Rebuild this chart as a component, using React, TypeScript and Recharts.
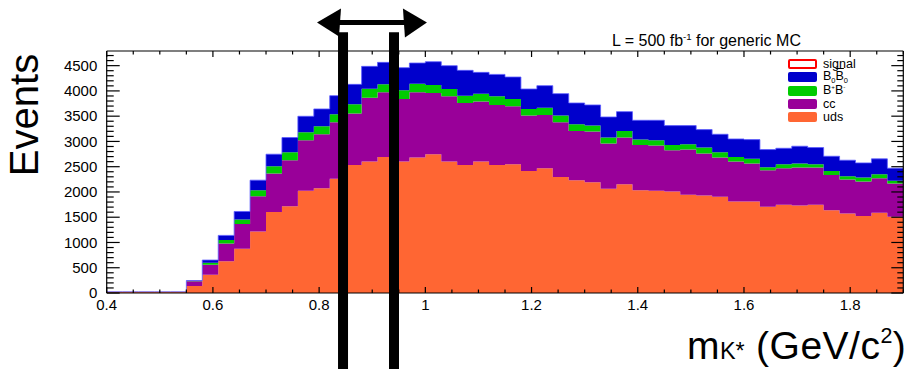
import React from 'react';
import { ComposedChart, Area, XAxis, YAxis, ReferenceLine, Legend } from 'recharts';

// ---------- data ----------
// low edges of the 50 histogram bins (width 0.03), and the upper edge of the last bin
const binStarts: number[] = Array.from({ length: 50 }, (_, i) => Math.round((0.4 + 0.03 * i) * 1000) / 1000);
const lastEdge = 1.9;

const uds = [25, 25, 25, 25, 25, 140, 362, 626, 876, 1219, 1601, 1719, 2022, 2075, 2259, 2536, 2602, 2694, 2602, 2681, 2747, 2602, 2536, 2602, 2536, 2549, 2417, 2470, 2298, 2233, 2193, 2062, 2154, 2035, 2022, 2009, 1943, 1930, 1903, 1811, 1811, 1706, 1745, 1732, 1745, 1640, 1574, 1522, 1588, 1508];
const cc = [0, 0, 0, 0, 0, 95, 198, 356, 488, 698, 764, 909, 1002, 1067, 1120, 1015, 1265, 1278, 1238, 1291, 1212, 1291, 1225, 1186, 1186, 1146, 1094, 1054, 1081, 975, 1002, 896, 922, 896, 896, 817, 896, 830, 778, 791, 751, 724, 725, 752, 739, 698, 672, 684, 684, 659];
const bb = [0, 0, 0, 0, 0, 4, 39, 65, 92, 119, 145, 159, 158, 158, 159, 184, 177, 158, 171, 171, 158, 145, 145, 158, 171, 145, 131, 145, 132, 132, 118, 118, 132, 105, 105, 105, 105, 119, 106, 92, 93, 60, 79, 78, 65, 79, 66, 80, 79, 53];
const b0b0 = [0, 0, 0, 0, 0, 6, 53, 93, 158, 197, 237, 290, 316, 343, 368, 395, 442, 435, 449, 409, 461, 461, 501, 421, 434, 435, 396, 435, 435, 421, 409, 408, 382, 383, 396, 382, 369, 355, 355, 355, 381, 349, 316, 343, 330, 290, 316, 289, 304, 250];

const xMajorTicks = [0.4, 0.6, 0.8, 1.0, 1.2, 1.4, 1.6, 1.8];
const xAllTicks: number[] = Array.from({ length: 31 }, (_, i) => Math.round((0.4 + 0.05 * i) * 100) / 100);
const yMajorTicks = [0, 500, 1000, 1500, 2000, 2500, 3000, 3500, 4000, 4500];
const yAllTicks: number[] = Array.from({ length: 48 }, (_, i) => i * 100);
const X_DOMAIN: [number, number] = [0.4, 1.9];
const Y_DOMAIN: [number, number] = [0, 4790];

// hand-drawn annotation (data coordinates)
const markerX = [0.845, 0.941];
const markerY: [number, number] = [-1520, 5160];
const arrowX: [number, number] = [0.796, 1.003];
const arrowY = 5356;

const COLORS = {
  signal: '#ff0000',
  b0b0: '#0000cc',
  bb: '#00cc00',
  cc: '#990099',
  uds: '#ff6633',
};

const legendKeys = ['signal', 'b0b0', 'bb', 'cc', 'uds'] as const;

// step rows: one per bin low edge, plus the closing edge carrying the last bin's value
const edges = [...binStarts, lastEdge];
const rows = edges.map((b, i) => {
  const j = Math.min(i, binStarts.length - 1);
  return { bin: b, uds: uds[j], cc: cc[j], bb: bb[j], b0b0: b0b0[j] };
});

const FONT = '"Liberation Sans", Arial, Helvetica, sans-serif';

const isMajor = (list: number[], v: number) => list.some((m) => Math.abs(m - v) < 1e-6);

const BottomTick = (p: any) => {
  const { x, y, payload } = p;
  const major = isMajor(xMajorTicks, payload.value);
  return (
    <g>
      <line x1={x} x2={x} y1={y} y2={y - (major ? 6 : 3.5)} stroke="#000" strokeWidth={1.2} />
      {major && (
        <text x={x} y={y + 16.5} textAnchor="middle" fontSize={15} fontFamily={FONT} fill="#000">
          {String(payload.value)}
        </text>
      )}
    </g>
  );
};

const TopTick = (p: any) => {
  const { x, y, payload } = p;
  const major = isMajor(xMajorTicks, payload.value);
  return <line x1={x} x2={x} y1={y} y2={y + (major ? 6 : 3.5)} stroke="#000" strokeWidth={1.2} />;
};

const LeftTick = (p: any) => {
  const { x, y, payload } = p;
  const major = isMajor(yMajorTicks, payload.value);
  return (
    <g>
      <line x1={x} x2={x + (major ? 13 : 7)} y1={y} y2={y} stroke="#000" strokeWidth={1.2} />
      {major && (
        <text x={x - 9.4} y={y + 5.2} textAnchor="end" fontSize={15} fontFamily={FONT} fill="#000">
          {String(payload.value)}
        </text>
      )}
    </g>
  );
};

const RightTick = (p: any) => {
  const { x, y, payload } = p;
  const major = isMajor(yMajorTicks, payload.value);
  return <line x1={x} x2={x - (major ? 12 : 6)} y1={y} y2={y} stroke="#000" strokeWidth={1.2} />;
};

const ArrowShape = (p: any) => {
  const { x1, y1, x2, y2 } = p;
  const y = (y1 + y2) / 2;
  const l = Math.min(x1, x2);
  const r = Math.max(x1, x2);
  return (
    <g>
      <line x1={l + 18} x2={r - 18} y1={y} y2={y} stroke="#000" strokeWidth={5} />
      <polygon points={`${l},${y} ${l + 24},${y - 14} ${l + 22},${y + 14}`} fill="#000" />
      <polygon points={`${r},${y} ${r - 24},${y - 14} ${r - 22},${y + 15}`} fill="#000" />
    </g>
  );
};

const legendLabel = (k: string) => {
  switch (k) {
    case 'signal':
      return <span>signal</span>;
    case 'b0b0':
      return (
        <span>
          B<span style={{ fontSize: '0.6em', position: 'relative', top: '0.35em' }}>0</span>
          <span style={{ textDecoration: 'overline' }}>B</span>
          <span style={{ fontSize: '0.6em', position: 'relative', top: '0.35em' }}>0</span>
        </span>
      );
    case 'bb':
      return (
        <span>
          B<span style={{ fontSize: '0.5em', position: 'relative', top: '-0.7em' }}>+</span>B
          <span style={{ fontSize: '0.5em', position: 'relative', top: '-0.7em' }}>-</span>
        </span>
      );
    default:
      return <span>{k}</span>;
  }
};

const LegendContent = () => (
  <div style={{ fontFamily: FONT, fontSize: 12.5, color: '#000' }}>
    {legendKeys.map((k) => (
      <div key={k} style={{ display: 'flex', alignItems: 'center', height: 13.3 }}>
        <div
          style={{
            width: k === 'signal' ? 25 : 29,
            height: k === 'signal' ? 6 : 10,
            boxSizing: 'content-box',
            background: k === 'signal' ? '#fff' : (COLORS as any)[k],
            border: k === 'signal' ? `2px solid ${COLORS.signal}` : 'none',
            borderRadius: 2,
          }}
        />
        <div style={{ marginLeft: 6, lineHeight: '13px', whiteSpace: 'nowrap' }}>{legendLabel(k)}</div>
      </div>
    ))}
  </div>
);

const stackKeys = ['uds', 'cc', 'bb', 'b0b0'] as const;

export default function App() {
  return (
    <div style={{ position: 'absolute', left: 0, top: 0, width: 915, height: 369, background: '#fff', fontFamily: FONT }}>
      <ComposedChart width={915} height={369} data={rows} margin={{ top: 0, right: 0, bottom: 0, left: 0 }}>
        <XAxis
          xAxisId="num"
          dataKey="bin"
          type="number"
          domain={X_DOMAIN}
          ticks={xAllTicks}
          interval={0}
          allowDataOverflow
          height={76}
          tickSize={0}
          tickMargin={0}
          tickLine={false}
          axisLine={{ stroke: '#000', strokeWidth: 1.2 }}
          tick={(p: any) => <BottomTick {...p} />}
        />
        <XAxis
          xAxisId="top"
          dataKey="bin"
          orientation="top"
          type="number"
          domain={X_DOMAIN}
          ticks={xAllTicks}
          interval={0}
          allowDataOverflow
          height={51}
          tickSize={0}
          tickMargin={0}
          tickLine={false}
          axisLine={{ stroke: '#000', strokeWidth: 1.2 }}
          tick={(p: any) => <TopTick {...p} />}
        />
        <YAxis
          yAxisId="left"
          type="number"
          domain={Y_DOMAIN}
          ticks={yAllTicks}
          interval={0}
          allowDataOverflow
          width={106.7}
          tickSize={0}
          tickMargin={0}
          tickLine={false}
          axisLine={{ stroke: '#000', strokeWidth: 1.2 }}
          tick={(p: any) => <LeftTick {...p} />}
        />
        <YAxis
          yAxisId="right"
          orientation="right"
          type="number"
          domain={Y_DOMAIN}
          ticks={yAllTicks}
          interval={0}
          allowDataOverflow
          width={11.7}
          tickSize={0}
          tickMargin={0}
          tickLine={false}
          axisLine={{ stroke: '#000', strokeWidth: 1.2 }}
          tick={(p: any) => <RightTick {...p} />}
        />
        {stackKeys.map((k) => (
          <Area
            key={k}
            xAxisId="num"
            yAxisId="left"
            dataKey={k}
            stackId="s"
            type="stepAfter"
            fill={(COLORS as any)[k]}
            fillOpacity={1}
            stroke={k === 'b0b0' ? '#5c5cff' : 'none'}
            strokeWidth={k === 'b0b0' ? 0.8 : 0}
            dot={false}
            activeDot={false}
            isAnimationActive={false}
          />
        ))}
        {markerX.map((mx) => (
          <ReferenceLine
            key={mx}
            xAxisId="num"
            yAxisId="left"
            ifOverflow="visible"
            segment={[{ x: mx, y: markerY[0] }, { x: mx, y: markerY[1] }]}
            stroke="#000"
            strokeWidth={10}
          />
        ))}
        <ReferenceLine
          xAxisId="num"
          yAxisId="left"
          ifOverflow="visible"
          segment={[{ x: arrowX[0], y: arrowY }, { x: arrowX[1], y: arrowY }]}
          stroke="#000"
          shape={(p: any) => <ArrowShape {...p} />}
        />
        <Legend
          layout="horizontal"
          align="center"
          verticalAlign="middle"
          content={() => <LegendContent />}
          wrapperStyle={{ left: 788, top: 57.5, width: 110, height: 70 }}
        />
      </ComposedChart>
      <div style={{ position: 'absolute', left: 612, top: 32.5, fontSize: 16, lineHeight: '16px', whiteSpace: 'nowrap', color: '#000' }}>
        L = 500 fb<span style={{ fontSize: '0.6em', position: 'relative', top: '-0.6em' }}>-1</span> for generic MC
      </div>
      <div
        style={{
          position: 'absolute',
          left: 24,
          top: 115,
          fontSize: 40,
          lineHeight: '40px',
          whiteSpace: 'nowrap',
          transform: 'translate(-50%, -50%) rotate(-90deg)',
          color: '#000',
        }}
      >
        Events
      </div>
      <div style={{ position: 'absolute', left: 687, top: 326, fontSize: 39, lineHeight: '39px', letterSpacing: 0.5, whiteSpace: 'nowrap', color: '#000' }}>
        m<span style={{ fontSize: '0.6em', letterSpacing: 0 }}>K*</span> (GeV/c
        <span style={{ fontSize: '0.55em', position: 'relative', top: '-0.75em' }}>2</span>)
      </div>
    </div>
  );
}
